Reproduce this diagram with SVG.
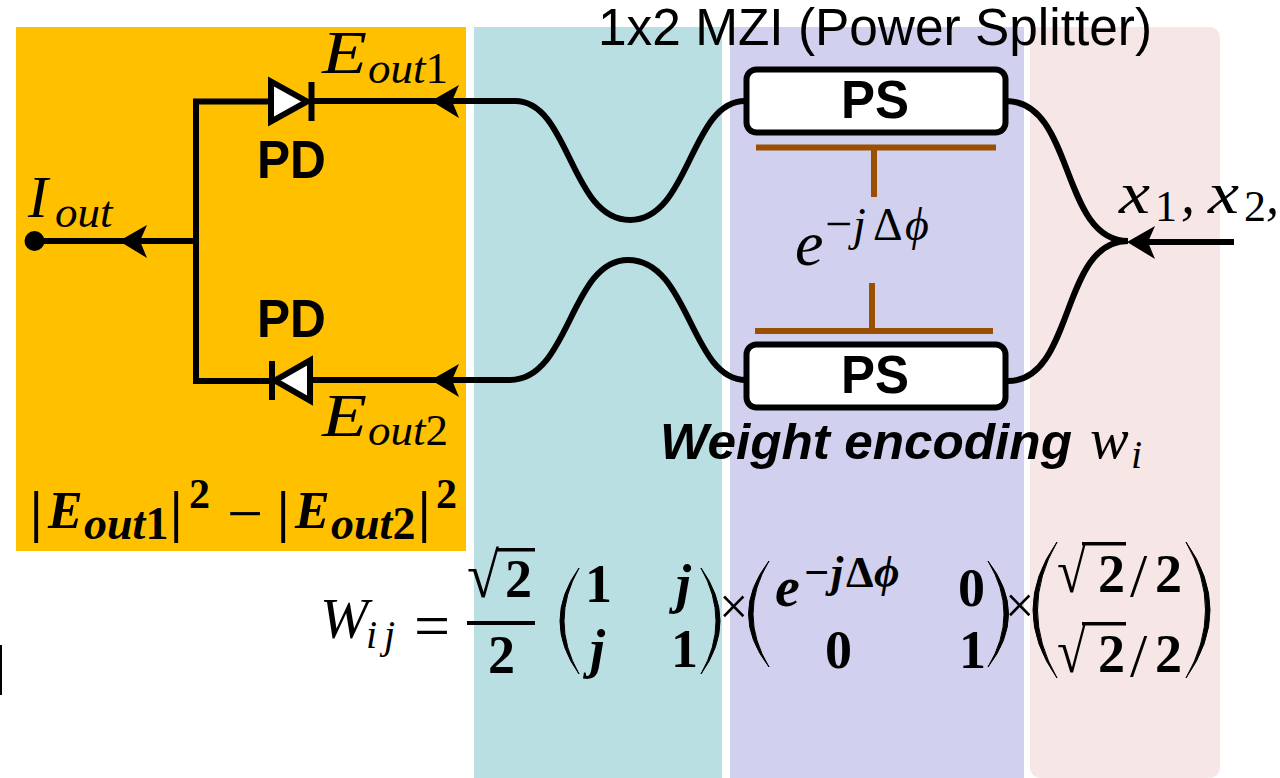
<svg xmlns="http://www.w3.org/2000/svg" width="1280" height="778" viewBox="0 0 1280 778">
<style>
.w{fill:none;stroke:#000;stroke-width:6}
.b{fill:none;stroke:#9A5000;stroke-width:6}
.d{fill:#fff;stroke:#000;stroke-width:6}
.box{fill:#fff;stroke:#000;stroke-width:6}
.sb{font-family:"Liberation Sans",Arial,sans-serif;font-weight:700;font-size:53px;fill:#000}
.m{font-family:"Liberation Serif","Times New Roman",serif;font-style:italic;fill:#000}
.r{font-family:"Liberation Serif","Times New Roman",serif;fill:#000}
.c{font-family:"Liberation Serif","Times New Roman",serif;font-weight:700;fill:#000}
.ci{font-family:"Liberation Serif","Times New Roman",serif;font-weight:700;font-style:italic;fill:#000}
.p{fill:#000;stroke:#000;stroke-width:1}
</style>
<defs><path id="arrow" d="M-1 0L27-16L20 0L27 17Z" fill="#000"/></defs>
<rect width="1280" height="778" fill="#fff"/>
<g id="bands">
<rect x="16" y="27" width="450" height="524" fill="#FFC000"/>
<rect x="474" y="27" width="248" height="751" fill="#B9DFE2"/>
<rect x="730" y="27" width="294" height="751" fill="#D1D1EF"/>
<path d="M1030 27H1208Q1220 27 1220 39V766Q1220 778 1208 778H1042Q1030 778 1030 766Z" fill="#F6E6E6"/>
<rect x="0" y="645" width="2" height="50" fill="#000"/>
</g>
<text x="598" y="45" font-family="'Liberation Sans',Arial,sans-serif" font-size="51" textLength="554" lengthAdjust="spacingAndGlyphs" fill="#000">1x2 MZI (Power Splitter)</text>
<g id="connectors">
<path class="w" d="M311 101H515C570 101 570 220 630 220C690 220 690 101 745 101"/>
<path class="w" d="M486 380H510C570 380 570 260 628 260C690 260 690 380 746 380"/>
<path class="w" d="M432 380H486"/>
<path class="w" d="M1006 101C1075 101 1060 241 1128 241"/>
<path class="w" d="M1008 381C1075 381 1060 241 1128 241"/>
<path class="w" d="M1234 242H1135"/>
<path class="w" d="M270 101.500H196V381H270"/>
<path class="w" d="M196 241H40"/>
<path class="w" d="M313 380H432"/>
<use href="#arrow" x="432" y="101"/>
<use href="#arrow" x="432" y="380"/>
<use href="#arrow" x="120" y="241"/>
<use href="#arrow" x="1128" y="242"/>
<path class="b" d="M756 147.500H996M874 148V197M755 331H993M872 331V283"/>
</g>
<g id="source"><circle cx="34.500" cy="241" r="10" fill="#000"/></g>
<g id="pd-top">
<path class="d" d="M271 81.500V121.500L307 101.500Z"/>
<rect x="308.500" y="82" width="6" height="39" fill="#000"/>
<text class="sb" x="257" y="178" textLength="69" lengthAdjust="spacingAndGlyphs">PD</text>
</g>
<g id="pd-bottom">
<path class="d" d="M310 360.500V400.500L275 380.500Z"/>
<rect x="269" y="361" width="6" height="39" fill="#000"/>
<text class="sb" x="257" y="337" textLength="69" lengthAdjust="spacingAndGlyphs">PD</text>
</g>
<g id="ps-top">
<rect class="box" x="746.500" y="69.500" width="259" height="63" rx="10"/>
<text class="sb" x="841" y="118" textLength="68" lengthAdjust="spacingAndGlyphs">PS</text>
</g>
<g id="ps-bottom">
<rect class="box" x="746.500" y="344.500" width="259" height="63" rx="10"/>
<text class="sb" x="841" y="393" textLength="68" lengthAdjust="spacingAndGlyphs">PS</text>
</g>
<g id="labels">
<text class="m" x="322" y="73" font-size="62" textLength="45" lengthAdjust="spacingAndGlyphs">E</text>
<text class="m" x="368" y="83" font-size="45">out<tspan class="r" font-style="normal">1</tspan></text>
<text class="m" x="322" y="436" font-size="62" textLength="45" lengthAdjust="spacingAndGlyphs">E</text>
<text class="m" x="368" y="445" font-size="45">out<tspan class="r" font-style="normal">2</tspan></text>
<text class="m" x="28" y="217" font-size="60">I</text>
<text class="m" x="55" y="227" font-size="45">out</text>
<text class="m" x="795" y="265" font-size="64">e</text>
<text class="r" x="825" y="240" font-size="48">−</text>
<text class="m" x="853" y="240" font-size="46">j</text>
<text class="r" x="873" y="240" font-size="46">Δ</text>
<text class="m" x="905" y="240" font-size="46">ϕ</text>
<text class="m" x="1119" y="213" font-size="60" textLength="31" lengthAdjust="spacingAndGlyphs">x</text>
<text class="r" x="1155" y="221" font-size="44">1</text>
<text class="m" x="1181" y="213" font-size="56">,</text>
<text class="m" x="1208" y="213" font-size="60" textLength="31" lengthAdjust="spacingAndGlyphs">x</text>
<text class="r" x="1244" y="221" font-size="44">2</text>
<text class="m" x="1266" y="213" font-size="52">,</text>
<text x="660" y="459" font-family="'Liberation Sans',Arial,sans-serif" font-weight="700" font-style="italic" font-size="50" textLength="412" lengthAdjust="spacingAndGlyphs">Weight encoding</text>
<text class="m" x="1090" y="458" font-size="58">w</text>
<text class="m" x="1131" y="468" font-size="40">i</text>
</g>
<g id="formula-out">
<text class="c" x="30" y="531" font-size="56">|</text>
<text class="ci" x="48" y="528" font-size="52">E</text>
<text class="ci" x="84" y="539" font-size="46">out<tspan font-style="normal">1</tspan></text>
<text class="c" x="170" y="531" font-size="56">|</text>
<text class="c" x="189" y="508" font-size="42">2</text>
<text class="r" x="227" y="535" font-size="64">−</text>
<text class="c" x="277" y="531" font-size="56">|</text>
<text class="ci" x="295" y="528" font-size="52">E</text>
<text class="ci" x="331" y="539" font-size="46">out<tspan font-style="normal">2</tspan></text>
<text class="c" x="418" y="531" font-size="56">|</text>
<text class="c" x="436" y="508" font-size="42">2</text>
</g>
<g id="formula-w">
<text class="m" x="320" y="638" font-size="58">W</text>
<text class="m" x="366" y="648" font-size="40" textLength="29" lengthAdjust="spacing">ij</text>
<text class="r" x="414" y="647" font-size="64">=</text>
<rect x="467" y="621" width="68" height="4" fill="#000"/>
<text class="c" x="467" y="597" font-size="64" textLength="32" lengthAdjust="spacingAndGlyphs">√</text>
<rect x="497" y="548" width="38" height="3.500" fill="#000"/>
<text class="c" x="505" y="597" font-size="54">2</text>
<text class="c" x="488" y="673" font-size="54">2</text>
<path class="p" d="M579 568Q541 621 579 674Q549 621 579 568M701 568Q739 621 701 674Q731 621 701 568"/>
<text class="c" x="585" y="602" font-size="54">1</text>
<text class="ci" x="676" y="602" font-size="54">j</text>
<text class="ci" x="590" y="667" font-size="54">j</text>
<text class="c" x="671" y="667" font-size="54">1</text>
<text class="r" x="719" y="624" font-size="52">×</text>
<path class="p" d="M769 561Q728 614 769 667Q737 614 769 561M988 561Q1029 614 988 667Q1020 614 988 561"/>
<text class="ci" x="775" y="606" font-size="56">e</text>
<text class="c" x="804" y="587" font-size="44">−</text>
<text class="ci" x="831" y="587" font-size="44">j</text>
<text class="c" x="846" y="587" font-size="44">Δ</text>
<text class="ci" x="874" y="587" font-size="44">ϕ</text>
<text class="c" x="958" y="606" font-size="54">0</text>
<text class="c" x="825" y="668" font-size="54">0</text>
<text class="c" x="959" y="668" font-size="54">1</text>
<text class="r" x="1005" y="623" font-size="52">×</text>
<path class="p" d="M1057 542Q1009 610 1057 678Q1018 610 1057 542M1186 542Q1234 610 1186 678Q1225 610 1186 542"/>
<text class="c" x="1057" y="592" font-size="62" textLength="29" lengthAdjust="spacingAndGlyphs">√</text>
<rect x="1082" y="542" width="44" height="3.500" fill="#000"/>
<text class="c" x="1098" y="592" font-size="54">2</text>
<text class="r" x="1130" y="596" font-size="62">/</text>
<text class="c" x="1155" y="592" font-size="54">2</text>
<text class="c" x="1057" y="672" font-size="62" textLength="29" lengthAdjust="spacingAndGlyphs">√</text>
<rect x="1082" y="622" width="44" height="3.500" fill="#000"/>
<text class="c" x="1098" y="672" font-size="54">2</text>
<text class="r" x="1130" y="676" font-size="62">/</text>
<text class="c" x="1155" y="672" font-size="54">2</text>
</g>
</svg>
